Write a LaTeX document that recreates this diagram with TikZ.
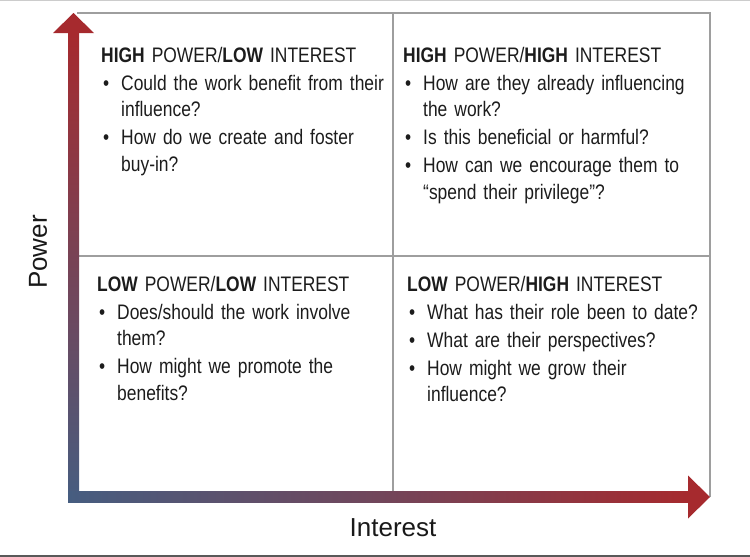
\documentclass[tikz,border=0pt]{standalone}
\usepackage{fontspec}
\setmainfont{Liberation Sans}[FakeStretch=0.83]
\newfontfamily\axisfont{Liberation Sans}
\usetikzlibrary{calc}
\usepackage{xcolor}
\definecolor{axisRed}{RGB}{166,42,46}
\definecolor{axisBlue}{RGB}{70,93,128}
\definecolor{quadText}{RGB}{28,28,28}
\newcommand{\qhead}[2]{\textbf{#1} POWER/\textbf{#2} INTEREST}
\newcommand{\qitem}[1]{\par\vspace{1.5pt}\hangindent=20pt\hangafter=1\noindent
  \makebox[20pt][l]{\hspace{2pt}\textbullet}#1\par}
\tikzset{
    % Lines
    grid/.style={draw=black!38, line width=1.4pt},
    % Text
    quad/.style={anchor=north west, inner sep=0pt, text width=300pt, align=left,
                 font=\fontsize{21}{26.5}\selectfont, text=quadText},
    axisLbl/.style={font=\axisfont\fontsize{26}{30}\selectfont, text=black!90, inner sep=0pt}
}

\begin{document}
\begin{tikzpicture}[x=1pt, y=-1pt]
\useasboundingbox (0,0) rectangle (750,557);

\coordinate (O) at (73.5,497);
\coordinate (yTip) at (73.5,13);
\coordinate (xTip) at (710,497);

% page rules
\draw[gray!40, line width=1pt] (0,0.5) -- (750,0.5);
\draw[black!65, line width=2pt] (0,555.5) -- (750,555.5);

% grid
\draw[grid] (77,13) -- (710,13) -- (710,497);
\draw[grid] (393,13) -- (393,492);
\draw[grid] (79,256) -- (710,256);

% axes
\shade[top color=axisRed, bottom color=axisBlue] ($(O)+(-5.5,5.5)$) rectangle ($(yTip)+(5.5,20)$);
\shade[left color=axisBlue, right color=axisRed, middle color=axisBlue!55!axisRed] ($(O)+(-5.5,5.5)$) rectangle ($(xTip)+(-22,-5.5)$);
\fill[axisRed] ($(yTip)+(-20.5,20)$) -- (yTip) -- ($(yTip)+(20.5,20)$) -- cycle;
\fill[axisRed] ($(xTip)+(-22,-21.5)$) -- (xTip) -- ($(xTip)+(-22,21.5)$) -- cycle;

\node[axisLbl, rotate=90] (power) at (38,252) {Power};
\node[axisLbl] (interest) at (393,528) {Interest};

% quadrants
\node[quad] (hpLi) at (101,47) {\qhead{HIGH}{LOW}
  \qitem{Could the work benefit from their\newline influence?}
  \qitem{How do we create and foster\newline buy-in?}};
\node[quad] (hpHi) at (403,47) {\qhead{HIGH}{HIGH}
  \qitem{How are they already influencing\newline the work?}
  \qitem{Is this beneficial or harmful?}
  \qitem{How can we encourage them to\newline ``spend their privilege''?}};
\node[quad] (lpLi) at (97,276) {\qhead{LOW}{LOW}
  \qitem{Does/should the work involve\newline them?}
  \qitem{How might we promote the\newline benefits?}};
\node[quad] (lpHi) at (407,276) {\qhead{LOW}{HIGH}
  \qitem{What has their role been to date?}
  \qitem{What are their perspectives?}
  \qitem{How might we grow their\newline influence?}};

\end{tikzpicture}
\end{document}
